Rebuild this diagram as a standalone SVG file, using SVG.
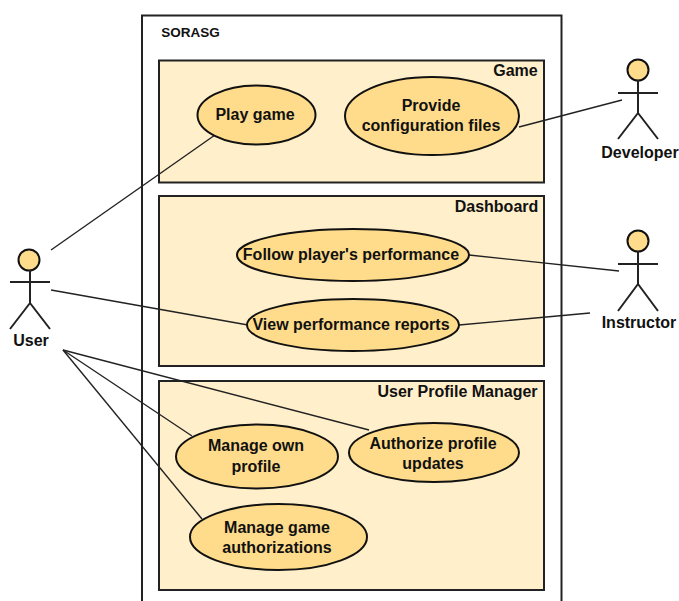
<svg xmlns="http://www.w3.org/2000/svg" width="679" height="601" viewBox="0 0 679 601">
<style>
.t{font-family:"Liberation Sans",Arial,sans-serif;font-weight:bold;font-size:16px;fill:#111;text-anchor:middle}
.e{fill:#ffdc8b;stroke:#111;stroke-width:2}
.p{fill:#ffefcb;stroke:#222;stroke-width:2}
.l{stroke:#222;stroke-width:1.4;fill:none}
.a{stroke:#222;stroke-width:2;fill:none}
</style>
<rect width="679" height="601" fill="#fff"/>
<g id="system"><path d="M142 601V15.500H561.500V601" fill="#fff" stroke="#222" stroke-width="2"/><text class="t" x="190.500" y="37" style="font-size:13.500px">SORASG</text></g>
<g id="pkg-game"><rect class="p" x="159" y="60.500" width="385" height="122"/><text class="t" x="515.500" y="76">Game</text></g>
<g id="pkg-dashboard"><rect class="p" x="159" y="196" width="385" height="170"/><text class="t" x="496.500" y="212">Dashboard</text></g>
<g id="pkg-profile"><rect class="p" x="159" y="381" width="385" height="209"/><text class="t" x="457.500" y="397">User Profile Manager</text></g>
<g id="connectors">
<path class="l" d="M51 250L215 135"/><path class="l" d="M519 127L622 100"/><path class="l" d="M469 255L619 271"/><path class="l" d="M459 325L590 313"/><path class="l" d="M51 290L248 325"/>
<path class="l" d="M63 350L192 436"/><path class="l" d="M63 350L202 519"/><path class="l" d="M63 350L369 430"/>
</g>
<g id="uc-play"><ellipse class="e" cx="256.500" cy="115" rx="59" ry="29.500"/><text class="t" x="255" y="120">Play game</text></g>
<g id="uc-config"><ellipse class="e" cx="432" cy="116" rx="87" ry="39"/><text class="t" x="431" y="111">Provide</text><text class="t" x="431" y="131">configuration files</text></g>
<g id="uc-follow"><ellipse class="e" cx="353" cy="255" rx="116" ry="26"/><text class="t" x="351" y="260">Follow player's performance</text></g>
<g id="uc-view"><ellipse class="e" cx="353" cy="325" rx="106" ry="26"/><text class="t" x="351" y="330">View performance reports</text></g>
<g id="uc-own"><ellipse class="e" cx="257" cy="456.500" rx="81" ry="32"/><text class="t" x="256" y="451">Manage own</text><text class="t" x="256" y="472">profile</text></g>
<g id="uc-auth"><ellipse class="e" cx="434" cy="452.500" rx="85" ry="29.500"/><text class="t" x="433" y="449">Authorize profile</text><text class="t" x="433" y="469">updates</text></g>
<g id="uc-game-auth"><ellipse class="e" cx="278.500" cy="537" rx="88.500" ry="33"/><text class="t" x="277" y="533">Manage game</text><text class="t" x="277" y="553">authorizations</text></g>
<g id="actor-user"><circle class="e" cx="29" cy="260" r="10.500"/><path class="a" d="M30 270V303M10 282H50M30 303L10 329M30 303L50 329"/><text class="t" x="31" y="346">User</text></g>
<g id="actor-developer"><circle class="e" cx="638" cy="70" r="10.500"/><path class="a" d="M638 80V113M618 93H658M638 113L618 139M638 113L658 139"/><text class="t" x="640" y="158">Developer</text></g>
<g id="actor-instructor"><circle class="e" cx="638" cy="241" r="10.500"/><path class="a" d="M638 251V284M618 264H658M638 284L618 311M638 284L658 311"/><text class="t" x="639" y="328">Instructor</text></g>
</svg>
